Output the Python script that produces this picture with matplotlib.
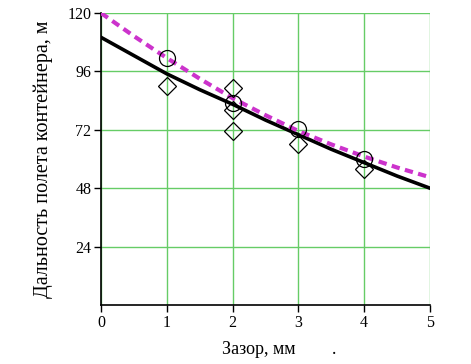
import matplotlib.pyplot as plt

plt.rcParams['font.family'] = ['Liberation Serif', 'DejaVu Serif']

# Smooth curves at 0.5 mm steps
gap_curve = [0, 0.5, 1, 1.5, 2, 2.5, 3, 3.5, 4, 4.5, 5]
range_model = [110, 102.5, 95, 88.5, 82.5, 76, 70, 64, 58.5, 53, 48]
range_fit = [120, 110.5, 101.5, 93, 85, 78, 71.5, 66, 61, 56.5, 52.5]

# Measured points
circle_x = [1, 2, 3, 4]
circle_y = [101.5, 83, 72.5, 60]
diamond_x = [1, 2, 2, 2, 3, 4]
diamond_y = [90, 89, 80, 71.5, 66, 56]

fig = plt.figure(figsize=(4.71, 3.64), dpi=100)
ax = fig.add_axes([101 / 471, 1 - 305 / 364, 329 / 471, 292 / 364])

ax.set_xlim(0, 5)
ax.set_ylim(0, 120)
ax.set_xticks(range(6))
ax.set_yticks([24, 48, 72, 96, 120])

ax.grid(True, color='#66cc66', linewidth=1.0)
ax.set_axisbelow(True)
for s in ['top', 'right']:
    ax.spines[s].set_visible(False)
for s in ['left', 'bottom']:
    ax.spines[s].set_linewidth(1.2)
ax.tick_params(direction='out', length=5, width=1.0, labelsize=11.5, pad=2)

ax.plot(gap_curve, range_model, color='black', linewidth=2.6, zorder=3)
ax.plot(gap_curve, range_fit, color='#cc33cc', linewidth=3, dashes=(2, 1.3), zorder=4)
ax.plot(circle_x, circle_y, 'o', mfc='none', mec='black', ms=11.5, mew=0.9, zorder=5)
ax.plot(diamond_x, diamond_y, 'D', mfc='none', mec='black', ms=9, mew=0.9, zorder=5)

ax.set_ylabel('Дальность полета контейнера, м', fontsize=14.5, labelpad=10)
fig.text(222 / 471, 1 - 350 / 364, 'Зазор, мм', fontsize=13, va='center', ha='left')
fig.text(332 / 471, 1 - 350 / 364, '.', fontsize=13, va='center', ha='left')

fig.savefig('out.png', dpi=100)
